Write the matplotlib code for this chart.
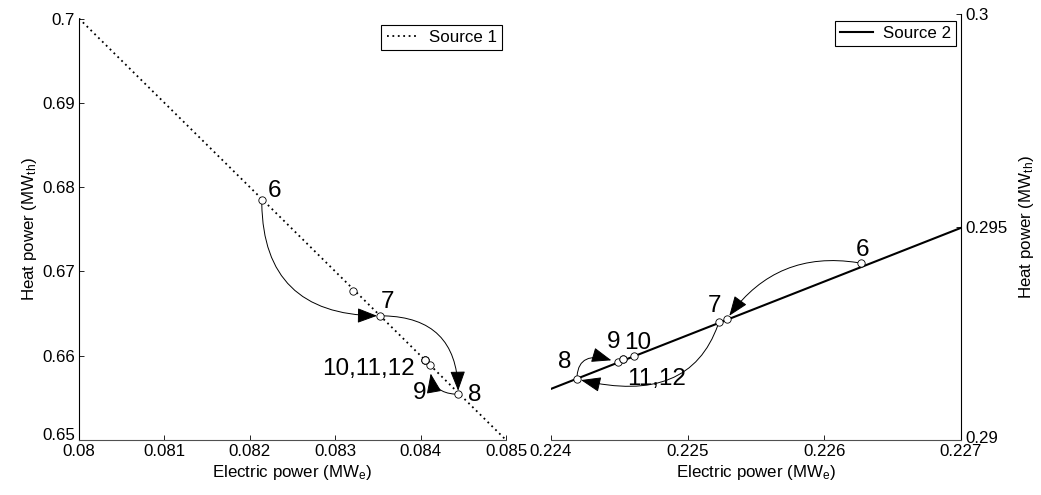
import numpy as np
import matplotlib.pyplot as plt
import matplotlib.transforms as mtransforms

plt.rcParams['font.family'] = ['Liberation Sans', 'DejaVu Sans']
plt.rcParams['mathtext.fontset'] = 'custom'
plt.rcParams['mathtext.rm'] = 'Liberation Sans'
plt.rcParams['mathtext.it'] = 'Liberation Sans:italic'

# Source 1 (left panel)
s1_line_x = [0.080, 0.085]
s1_line_y = [0.700, 0.650]
s1_x = [0.08214, 0.08321, 0.08353, 0.08444, 0.08411, 0.08405, 0.08405, 0.08405]
s1_y = [0.67842, 0.66770, 0.66473, 0.65543, 0.65887, 0.65947, 0.65947, 0.65947]
s1_names = ['6', '', '7', '8', '9', '10,11,12', '', '']
s1_arrows = [(0, 2), (2, 3), (3, 4)]
s1_xticks = [0.080, 0.081, 0.082, 0.083, 0.084, 0.085]
s1_xticklabels = ['0.08', '0.081', '0.082', '0.083', '0.084', '0.085']
s1_yticks = [0.65, 0.66, 0.67, 0.68, 0.69, 0.70]
s1_yticklabels = ['0.65', '0.66', '0.67', '0.68', '0.69', '0.7']

# Source 2 (right panel)
s2_line_x = [0.224, 0.227]
s2_line_y = [0.29120, 0.29498]
s2_x = [0.22627, 0.22523, 0.22529, 0.22419, 0.22449, 0.22461, 0.22453, 0.22453]
s2_y = [0.29415, 0.29278, 0.29285, 0.29143, 0.29182, 0.29198, 0.29189, 0.29189]
s2_names = ['6', '7', '', '8', '9', '10', '11,12', '']
s2_arrows = [(0, 2), (1, 3), (3, 4)]
s2_xticks = [0.224, 0.225, 0.226, 0.227]
s2_xticklabels = ['0.224', '0.225', '0.226', '0.227']
s2_yticks = [0.290, 0.295, 0.300]
s2_yticklabels = ['0.29', '0.295', '0.3']

# label offsets in pixels, arrow shapes (angle3 angles, shrink)
s1_offsets = {'6': (13, 3, 'center'), '7': (7, 8, 'center'), '8': (17, -7, 'center'),
              '9': (-10, -34, 'center'), '10,11,12': (-10, -15, 'right')}
s2_offsets = {'6': (1, 7, 'center'), '7': (-5, 10, 'center'), '8': (-12, 11, 'center'),
              '9': (-4, 14, 'center'), '10': (3, 7, 'center'), '11,12': (33, -26, 'center')}
s1_arrow_style = [(90, 0, 2.5), (0, 90, 2.5), (0, 90, 6)]
s2_arrow_style = [(-10, 55, 2.5), (72, -14, 3), (90, -20, 5)]

fig = plt.figure(figsize=(10.41, 4.95), dpi=100)
ax1 = fig.add_axes([79 / 1041, 55 / 495, 427 / 1041, 421.5 / 495])
ax2 = fig.add_axes([551 / 1041, 55 / 495, 410 / 1041, 426 / 495])

FS = 12.2
LBL = 17.5


def draw_panel(ax, lx, ly, px, py, names, arrows, astyle, offsets, ls, lw, label):
    ax.plot(lx, ly, color='black', linestyle=ls, linewidth=lw, label=label, zorder=2)
    for (i, j), (aa, ab, sh) in zip(arrows, astyle):
        ax.annotate('', xy=(px[j], py[j]), xytext=(px[i], py[i]),
                    arrowprops=dict(arrowstyle='-|>,head_length=0.95,head_width=0.36',
                                    mutation_scale=13, color='black', lw=0.7,
                                    shrinkA=2.5, shrinkB=sh,
                                    connectionstyle='angle3,angleA=%g,angleB=%g' % (aa, ab)),
                    zorder=3)
    ax.plot(px, py, linestyle='none', marker='o', markersize=5.3,
            markerfacecolor='white', markeredgecolor='black', markeredgewidth=0.6, zorder=4)
    for x, y, n in zip(px, py, names):
        if not n:
            continue
        dx, dy, ha = offsets[n]
        ax.annotate(n, xy=(x, y), xytext=(dx, dy), textcoords='offset pixels',
                    ha=ha, va='baseline', fontsize=LBL, annotation_clip=False, zorder=5)


draw_panel(ax1, s1_line_x, s1_line_y, s1_x, s1_y, s1_names, s1_arrows, s1_arrow_style,
           s1_offsets, (0, (1, 2)), 1.3, 'Source 1')
draw_panel(ax2, s2_line_x, s2_line_y, s2_x, s2_y, s2_names, s2_arrows, s2_arrow_style,
           s2_offsets, '-', 1.5, 'Source 2')

ax1.set_xlim(0.080, 0.085)
ax1.set_ylim(0.65, 0.70)
ax2.set_xlim(0.224, 0.227)
ax2.set_ylim(0.290, 0.300)

ax1.set_xticks(s1_xticks)
ax1.set_xticklabels(s1_xticklabels)
ax1.set_yticks(s1_yticks)
ax1.set_yticklabels(s1_yticklabels)
ax2.set_xticks(s2_xticks)
ax2.set_xticklabels(s2_xticklabels)
ax2.set_yticks(s2_yticks)
ax2.set_yticklabels(s2_yticklabels)

for ax in (ax1, ax2):
    ax.tick_params(direction='in', length=3.5, width=0.6, labelsize=FS, pad=3)
    ax.set_xlabel(r'Electric power (MW$_\mathregular{e}$)', fontsize=FS, labelpad=3)
    for s in ax.spines.values():
        s.set_linewidth(0.8)
    ax.spines['top'].set_visible(False)
    ax.spines['bottom'].set_color('#505050')

ax1.spines['right'].set_visible(False)
ax1.set_ylabel(r'Heat power (MW$_\mathregular{th}$)', fontsize=FS, labelpad=2)

ax2.spines['left'].set_visible(False)
ax2.yaxis.tick_right()
ax2.yaxis.set_label_position('right')
ax2.set_ylabel(r'Heat power (MW$_\mathregular{th}$)', fontsize=FS, labelpad=7,
               rotation=90)

# lift the lowest y tick labels a little, as in the original
for ax, dy in ((ax1, 6), (ax2, 3)):
    lab = ax.get_yticklabels()[0]
    lab.set_transform(lab.get_transform() +
                      mtransforms.ScaledTranslation(0, dy / 100, fig.dpi_scale_trans))

leg_kw = dict(loc='upper right', borderaxespad=0, fancybox=False, fontsize=FS,
              handlelength=1.9, handletextpad=0.6, borderpad=0.3, framealpha=1)
l1 = ax1.legend(bbox_to_anchor=(0.9906, 0.9846), **leg_kw)
l2 = ax2.legend(bbox_to_anchor=(0.9878, 0.9843), **leg_kw)
for lg in (l1, l2):
    lg.get_frame().set_edgecolor('black')
    lg.get_frame().set_linewidth(0.8)

fig.savefig('out.png', dpi=100)
